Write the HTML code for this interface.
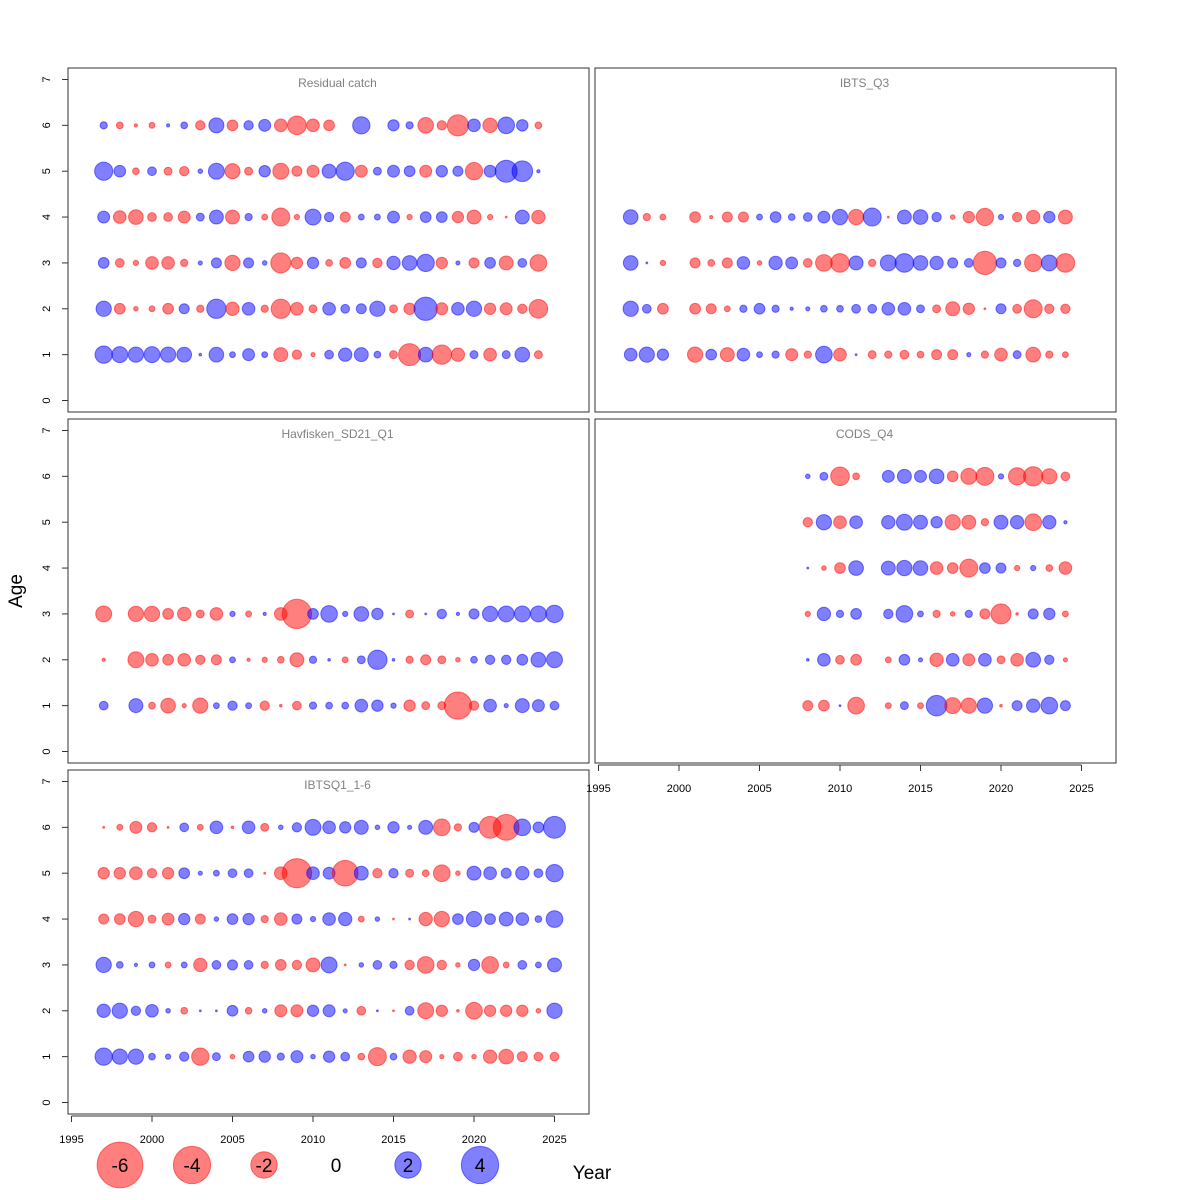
<!DOCTYPE html>
<html><head><meta charset="utf-8"><style>body{margin:0;background:#fff}svg{display:block}</style></head>
<body>
<svg id="c" width="1200" height="1200" xmlns="http://www.w3.org/2000/svg" font-family="Liberation Sans, sans-serif"></svg>
<script>
const ages=[1,2,3,4,5,6];
const yearsRC=[1997,1998,1999,2000,2001,2002,2003,2004,2005,2006,2007,2008,2009,2010,2011,2012,2013,2014,2015,2016,2017,2018,2019,2020,2021,2022,2023,2024];
const rc1=[0.86,0.73,0.67,0.73,0.67,0.62,0.02,0.62,0.1,0.41,0.1,-0.56,-0.25,-0.05,0.22,0.51,0.56,0.13,-0.18,-1.39,0.62,-1.07,-0.51,0.18,-0.46,0.18,0.62,-0.18];
const rc2=[0.67,-0.33,-0.06,-0.1,-0.33,0.29,-0.15,1.07,-0.51,0.46,-0.15,-1.07,-0.46,-0.18,0.46,0.22,0.29,0.67,-0.18,-0.37,1.56,-0.41,0.46,0.67,-0.37,-0.41,-0.25,-1.0];
const rc3=[0.33,-0.22,-0.08,-0.46,-0.46,-0.15,0.05,0.29,-0.67,0.29,0.06,-1.15,-0.37,0.37,-0.13,-0.33,0.29,-0.25,0.51,0.62,0.86,-0.37,0.05,-0.29,0.33,-0.56,0.22,-0.8];
const rc4=[0.41,-0.46,-0.62,-0.22,-0.22,-0.41,0.18,0.56,-0.56,0.15,-0.1,-0.93,-0.08,0.73,0.25,-0.29,0.1,0.1,0.41,-0.08,0.33,0.33,-0.37,-0.56,-0.08,-0.01,0.56,-0.51];
const rc5=[0.95,0.39,-0.13,0.22,-0.18,-0.25,0.06,0.73,-0.65,-0.18,0.37,-0.73,-0.29,-0.41,0.56,0.95,-0.41,0.18,0.41,0.33,-0.41,0.37,0.29,-0.86,0.41,1.39,1.22,0.03];
const rc6=[0.15,-0.13,-0.03,-0.1,0.03,0.13,-0.25,0.65,-0.33,0.25,0.41,-0.46,-1.0,-0.46,-0.33,0,0.86,0,0.36,0.15,-0.7,-0.25,-1.3,0.46,-0.6,0.8,0.38,-0.13];
const yearsQ3=[1997,1998,1999,2001,2002,2003,2004,2005,2006,2007,2008,2009,2010,2011,2012,2013,2014,2015,2016,2017,2018,2019,2020,2021,2022,2023,2024];
const q31=[0.46,0.67,0.37,-0.67,0.33,-0.56,0.46,0.1,0.15,-0.41,-0.15,0.8,-0.46,0.01,-0.18,-0.15,-0.22,-0.13,-0.29,-0.29,0.05,-0.15,-0.46,0.18,-0.62,-0.15,-0.1];
const q32=[0.67,0.22,-0.33,-0.33,-0.29,-0.1,0.15,0.33,0.15,0.03,0.05,0.13,0.13,0.22,0.22,0.46,0.46,0.18,-0.18,-0.56,-0.37,-0.01,0.29,-0.22,-0.93,-0.25,-0.25];
const q33=[0.62,0.01,-0.08,-0.29,-0.13,-0.29,0.46,-0.06,0.51,0.41,-0.22,-0.8,-1.0,0.56,-0.15,0.73,1.0,0.62,0.51,0.29,0.22,-1.56,0.29,0.15,-0.86,0.73,-1.0];
const q34=[0.62,-0.15,-0.1,-0.33,-0.03,-0.29,-0.29,0.1,0.33,0.13,0.22,0.41,0.67,-0.67,0.93,-0.01,0.56,0.62,0.25,-0.06,-0.37,-0.86,0.08,-0.25,-0.51,0.37,-0.56];
const yearsHF=[1997,1999,2000,2001,2002,2003,2004,2005,2006,2007,2008,2009,2010,2011,2012,2013,2014,2015,2016,2017,2018,2019,2020,2021,2022,2023,2024,2025];
const hf1=[0.22,0.56,-0.13,-0.62,-0.05,-0.67,0.1,0.25,0.1,-0.25,-0.02,-0.22,0.15,0.13,0.13,0.46,0.37,0.08,-0.37,-0.18,-0.18,-2.14,-0.25,0.46,0.05,0.56,0.41,0.22];
const hf2=[-0.03,-0.73,-0.46,-0.33,-0.46,-0.25,-0.29,0.1,-0.03,-0.08,-0.13,-0.56,0.15,0.02,-0.1,0.18,1.07,0.02,-0.15,-0.29,-0.18,-0.06,0.13,0.25,0.25,0.33,0.62,0.73];
const hf3=[-0.73,-0.67,-0.67,-0.33,-0.51,-0.18,-0.46,0.08,-0.1,0.03,-0.46,-2.46,0.33,0.8,0.08,0.62,0.37,0.01,-0.18,0.01,0.25,0.03,0.29,0.67,0.73,0.73,0.73,0.86];
const yearsCO=[2008,2009,2010,2011,2013,2014,2015,2016,2017,2018,2019,2020,2021,2022,2023,2024];
const co1=[-0.29,-0.33,0.01,-0.8,-0.1,0.18,-0.1,1.22,-0.73,-0.67,0.67,-0.02,0.29,0.51,0.8,0.29];
const co2=[0.02,0.46,-0.22,-0.33,-0.1,0.33,0.05,-0.51,0.46,-0.41,0.46,-0.18,-0.46,0.62,0.25,-0.05];
const co3=[-0.08,0.51,0.15,0.33,0.25,0.8,0.1,-0.15,-0.06,0.15,-0.29,-1.15,-0.02,0.29,0.37,-0.1];
const co4=[0.01,-0.06,-0.33,0.62,0.56,0.67,0.62,-0.46,-0.33,-0.93,0.33,0.29,-0.08,0.08,-0.13,-0.46];
const co5=[-0.25,0.67,-0.46,0.46,0.51,0.73,0.56,0.37,-0.67,-0.56,-0.15,0.56,0.51,-0.8,0.51,0.03];
const co6=[0.06,0.18,-1.0,-0.13,0.41,0.56,0.41,0.62,-0.33,-0.73,-0.93,0.08,-0.86,-1.07,-0.67,-0.22];
const yearsQ1=[1997,1998,1999,2000,2001,2002,2003,2004,2005,2006,2007,2008,2009,2010,2011,2012,2013,2014,2015,2016,2017,2018,2019,2020,2021,2022,2023,2024,2025];
const q11=[0.86,0.67,0.67,0.13,0.08,0.25,-0.86,0.18,-0.06,0.33,0.37,0.15,0.41,0.06,0.37,0.22,-0.13,-0.93,0.13,-0.51,-0.41,-0.05,-0.22,-0.06,-0.51,-0.62,-0.29,-0.22,-0.22];
const q12=[0.51,0.67,0.25,0.46,0.06,-0.13,0.01,0.01,0.33,-0.13,0.06,-0.41,-0.41,0.37,0.41,0.05,-0.22,0.01,-0.01,0.22,-0.73,-0.37,-0.02,-0.8,-0.37,-0.37,-0.37,-0.06,0.67];
const q13=[0.67,0.13,0.03,0.1,-0.1,0.1,-0.51,0.22,0.29,0.22,-0.15,-0.33,-0.25,-0.56,0.73,-0.01,0.06,0.22,0.15,-0.25,-0.8,-0.25,-0.06,0.37,-0.8,-0.1,0.22,0.1,0.56];
const q14=[-0.29,-0.33,-0.67,-0.18,-0.41,0.37,-0.29,0.06,0.33,0.37,-0.15,-0.46,0.29,0.08,0.46,0.51,-0.1,0.06,-0.01,0.01,-0.51,-0.67,0.33,0.67,0.33,0.56,0.46,0.13,0.8];
const q15=[-0.37,-0.37,-0.46,-0.25,-0.37,0.33,0.05,0.1,0.22,0.22,-0.01,-0.46,-2.46,0.46,0.41,-1.9,0.56,-0.25,0.25,-0.18,-0.13,-0.8,-0.06,0.56,0.46,0.29,0.51,0.22,0.86];
const q16=[-0.01,-0.1,-0.41,-0.25,-0.01,0.22,-0.1,0.46,-0.02,0.46,-0.18,0.06,0.25,0.73,0.46,0.37,0.56,0.06,0.37,0.05,0.56,-0.8,-0.15,0.29,-1.37,-1.9,0.8,0.33,1.37];
const xTicks=[1995,2000,2005,2010,2015,2020,2025];
const yTicks=[0,1,2,3,4,5,6,7];
const legendVals=[-6,-4,-2,0,2,4];

const NS='http://www.w3.org/2000/svg';
const svg=document.getElementById('c');
function mk(t,a,p){const e=document.createElementNS(NS,t);for(const k in a)e.setAttribute(k,a[k]);(p||svg).appendChild(e);return e;}
const W=521,H=344;
function xs(px,yr){return px+3.5+(yr-1995)*16.1;}
function ys(py,a){return py+332.5-a*45.86;}
function rad(v){return 9.33*Math.sqrt(Math.abs(v));}
const panels=[
 {name:'Residual catch',px:68,py:68,years:yearsRC,rows:[rc1,rc2,rc3,rc4,rc5,rc6],xa:false,ya:true},
 {name:'IBTS_Q3',px:595,py:68,years:yearsQ3,rows:[q31,q32,q33,q34],xa:false,ya:false},
 {name:'Havfisken_SD21_Q1',px:68,py:419,years:yearsHF,rows:[hf1,hf2,hf3],xa:false,ya:true},
 {name:'CODS_Q4',px:595,py:419,years:yearsCO,rows:[co1,co2,co3,co4,co5,co6],xa:true,ya:false},
 {name:'IBTSQ1_1-6',px:68,py:770,years:yearsQ1,rows:[q11,q12,q13,q14,q15,q16],xa:true,ya:true}];
panels.forEach(p=>{
 const g=mk('g',{});
 
 
 const b=mk('rect',{x:p.px,y:p.py,width:W,height:H,fill:'none',stroke:'#333','stroke-width':1},g);
 
 
 const t=mk('text',{x:p.px+W/2+9,y:p.py+19,'text-anchor':'middle','font-size':12,fill:'#808080'},g);
 t.textContent=p.name;
 
 
 if(p.ya){
 yTicks.forEach(v=>{
  const y=ys(p.py,v);
  mk('line',{x1:p.px-6,x2:p.px,y1:y,y2:y,stroke:'#333'},g);
  const tx=mk('text',{x:p.px-22,y:y,'font-size':11,'text-anchor':'middle',transform:`rotate(-90 ${p.px-22} ${y})`,dy:4},g);
  tx.textContent=v;
  
  
 });
 }
 if(p.xa){
  const yb=p.py+H+2;
  mk('line',{x1:xs(p.px,1995),x2:xs(p.px,2025),y1:yb,y2:yb,stroke:'#333'},g);
  xTicks.forEach(v=>{
   const x=xs(p.px,v);
   mk('line',{x1:x,x2:x,y1:yb,y2:yb+6,stroke:'#333'},g);
   const tx=mk('text',{x:x,y:yb+27,'font-size':11,'text-anchor':'middle'},g);
   tx.textContent=v;
   
   
  });
 }
 p.rows.forEach((row,ai)=>{
  const age=ages[ai];
  row.forEach((v,i)=>{
   if(v===0)return;
   const col=v<0?'rgba(255,0,0,0.5)':'rgba(0,0,255,0.5)';
   const c=mk('circle',{cx:xs(p.px,p.years[i]),cy:ys(p.py,age),r:rad(v),fill:col,stroke:col,'stroke-width':1},g);
   
   
  });
 });
});
const ya=mk('text',{x:22,y:591,'font-size':19,'text-anchor':'middle',transform:'rotate(-90 22 591)'});
ya.textContent='Age';


const xa=mk('text',{x:592,y:1179,'font-size':19,'text-anchor':'middle'});
xa.textContent='Year';


legendVals.forEach((v,i)=>{
 const x=120+i*72,y=1165;
 if(v!==0){
  const col=v<0?'rgba(255,0,0,0.5)':'rgba(0,0,255,0.5)';
  const c=mk('circle',{cx:x,cy:y,r:rad(v),fill:col,stroke:col});
  
  
 }
 const t=mk('text',{x:x,y:y+7,'font-size':19,'text-anchor':'middle'});
 t.textContent=v;
 
 
});
</script>
</body></html>
